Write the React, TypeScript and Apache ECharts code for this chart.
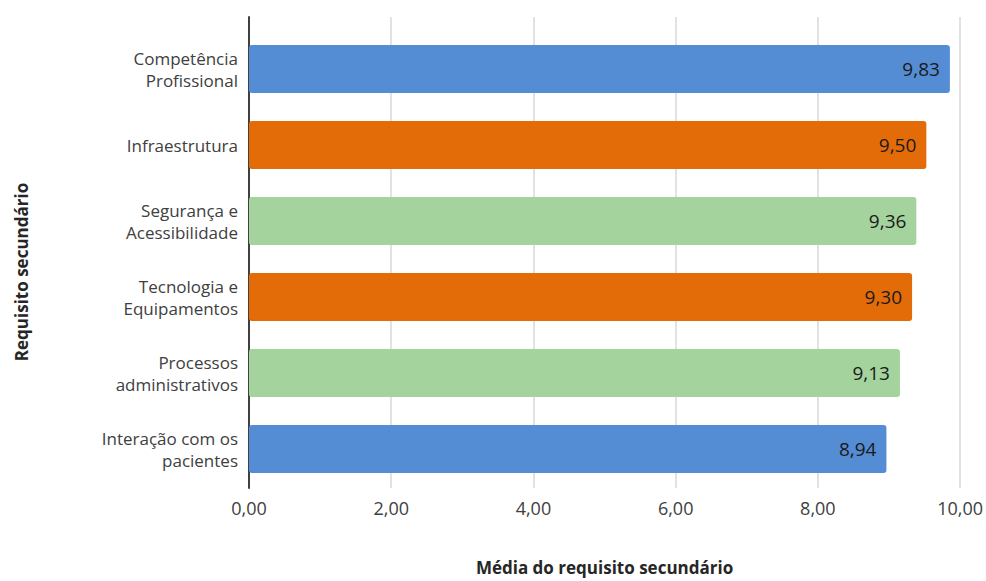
import React, { useEffect, useRef } from "react";
import * as echarts from "echarts";

const categories = [
  "Competência\nProfissional",
  "Infraestrutura",
  "Segurança e\nAcessibilidade",
  "Tecnologia e\nEquipamentos",
  "Processos\nadministrativos",
  "Interação com os\npacientes",
];
const values = [9.83, 9.5, 9.36, 9.3, 9.13, 8.94];
const colors = ["#548dd4", "#e36c09", "#a5d39e", "#e36c09", "#a5d39e", "#548dd4"];
const xTicks = { min: 0, max: 10, interval: 2 };
const xName = "Média do requisito secundário";
const yName = "Requisito secundário";

const FONT = "'Open Sans', 'Noto Sans', sans-serif";
const fmt = (v: number) => v.toFixed(2).replace(".", ",");

export default function App() {
  const ref = useRef<HTMLDivElement>(null);
  useEffect(() => {
    if (!ref.current) return;
    const chart = echarts.init(ref.current, undefined, { renderer: "svg" });
    chart.setOption({
      animation: false,
      textStyle: { fontFamily: FONT },
      grid: [
        { left: 249, right: 24, top: 31, height: 456 },
        { left: 249, right: 24, top: 17, height: 483 },
      ],
      xAxis: [
        {
          gridIndex: 0,
          type: "value",
          min: xTicks.min,
          max: xTicks.max,
          interval: xTicks.interval,
          show: false,
        },
        {
          gridIndex: 1,
          type: "value",
          min: xTicks.min,
          max: xTicks.max,
          interval: xTicks.interval,
          axisLine: { show: false },
          axisTick: { show: false },
          splitLine: { show: true, lineStyle: { color: "#d9d9d9", width: 1.5 } },
          axisLabel: {
            formatter: (v: number) => fmt(v),
            color: "#404040",
            fontSize: 18,
            fontFamily: FONT,
            margin: 11,
          },
          name: xName,
          nameLocation: "middle",
          nameGap: 71,
          nameTextStyle: {
            fontWeight: "bold",
            fontSize: 17,
            color: "#262626",
            fontFamily: FONT,
          },
        },
      ],
      yAxis: [
        {
          gridIndex: 0,
          type: "category",
          data: categories,
          inverse: true,
          axisLine: { show: false },
          axisTick: { show: false },
          axisLabel: {
            color: "#404040",
            fontSize: 17,
            fontFamily: FONT,
            margin: 11,
            lineHeight: 22,
            align: "right",
          },
        },
        {
          gridIndex: 1,
          type: "value",
          min: 0,
          max: 1,
          axisLine: { show: true, onZero: false, lineStyle: { color: "#404040", width: 2 } },
          axisTick: { show: false },
          axisLabel: { show: false },
          splitLine: { show: false },
        },
      ],
      graphic: [
        {
          type: "text",
          x: 21,
          y: 272,
          rotation: Math.PI / 2,
          style: {
            text: yName,
            font: `bold 17px ${FONT}`,
            fill: "#262626",
            align: "center",
            verticalAlign: "middle",
          },
        },
      ],
      series: [
        {
          type: "bar",
          xAxisIndex: 0,
          yAxisIndex: 0,
          barWidth: 48,
          data: values.map((v, i) => ({
            value: v,
            itemStyle: { color: colors[i], borderRadius: 3 },
          })),
          label: {
            show: true,
            position: "insideRight",
            distance: 10,
            formatter: (p: any) => fmt(p.value),
            color: "#1a1a1a",
            fontSize: 19,
            fontFamily: FONT,
          },
        },
      ],
    });
    return () => chart.dispose();
  }, []);
  return (
    <div
      ref={ref}
      style={{ position: "absolute", left: 0, top: 0, width: 986, height: 581 }}
    />
  );
}
